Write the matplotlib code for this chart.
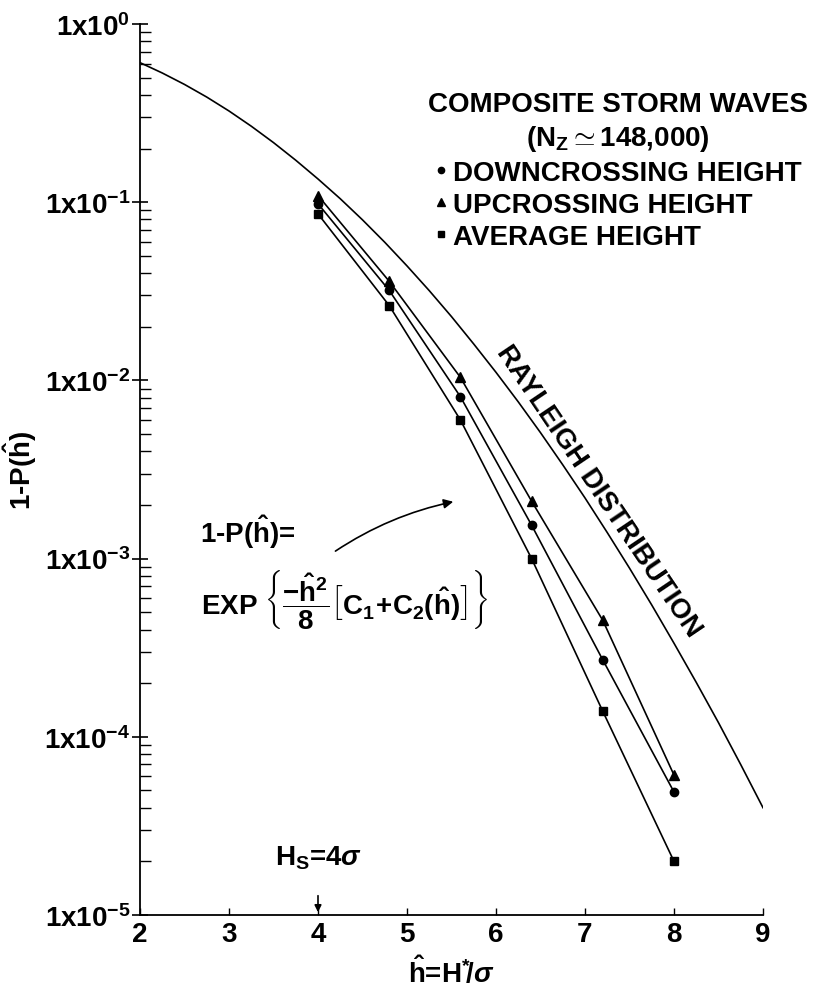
import numpy as np
import matplotlib
matplotlib.use("Agg")
import matplotlib.pyplot as plt
from matplotlib.ticker import FixedLocator, LogLocator, NullFormatter

# normalized wave height h = H*/sigma, sample points of the record
h_points = [4.0, 4.8, 5.6, 6.4, 7.2, 8.0]
downcrossing = [0.098, 0.032, 0.0081, 0.00154, 2.7e-4, 4.9e-5]
upcrossing = [0.109, 0.036, 0.0104, 0.0021, 4.5e-4, 6.1e-5]
average = [0.086, 0.0263, 0.0060, 0.0010, 1.39e-4, 2.0e-5]

# Rayleigh curve, values
h_rayleigh = [2.0, 2.25, 2.5, 2.75, 3.0, 3.25, 3.5, 3.75, 4.0, 4.25, 4.5, 4.75,
              5.0, 5.25, 5.5, 5.75, 6.0, 6.25, 6.5, 6.75, 7.0, 7.25, 7.5,
              7.75, 8.0, 8.25, 8.5, 8.75, 9.0]
p_rayleigh = [0.607, 0.531, 0.458, 0.389, 0.325, 0.267, 0.216, 0.172, 0.135,
              0.1046, 0.0796, 0.0596, 0.0439, 0.0319, 0.0228, 0.0160, 0.0111,
              0.00758, 0.00509, 0.00336, 0.00219, 0.00140, 8.84e-4, 5.49e-4,
              3.35e-4, 2.02e-4, 1.20e-4, 6.98e-5, 4.0e-5]

y_ticks = [1e0, 1e-1, 1e-2, 1e-3, 1e-4, 1e-5]
y_ticklabels = [r"$1\mathrm{x}10^{0}$", r"$1\mathrm{x}10^{-1}$", r"$1\mathrm{x}10^{-2}$",
                r"$1\mathrm{x}10^{-3}$", r"$1\mathrm{x}10^{-4}$", r"$1\mathrm{x}10^{-5}$"]
x_ticks = [2, 3, 4, 5, 6, 7, 8, 9]

fs = 20
plt.rcParams.update({
    "font.family": "Liberation Sans",
    "font.weight": "bold",
    "axes.labelweight": "bold",
    "font.size": fs,
    "mathtext.fontset": "custom",
    "mathtext.rm": "Liberation Sans:bold",
    "mathtext.it": "Liberation Sans:bold:italic",
    "mathtext.bf": "Liberation Sans:bold",
    "mathtext.sf": "Liberation Sans:bold",
    "mathtext.default": "rm",
})

fig = plt.figure(figsize=(8.4, 9.95), dpi=100)
ax = fig.add_axes([140 / 840, 1 - 916 / 995, (763 - 140) / 840, (916 - 25) / 995])

lw = 1.2
ax.plot(h_rayleigh, p_rayleigh, color="black", lw=lw)
ax.plot(h_points, downcrossing, color="black", lw=lw, marker="o", ms=6,
        label="DOWNCROSSING HEIGHT")
ax.plot(h_points, upcrossing, color="black", lw=lw, marker="^", ms=7,
        label="UPCROSSING HEIGHT")
ax.plot(h_points, average, color="black", lw=lw, marker="s", ms=6,
        label="AVERAGE HEIGHT")

ax.set_yscale("log")
ax.set_xlim(2, 9)
ax.set_ylim(1e-5, 1e0)
ax.yaxis.set_major_locator(FixedLocator(y_ticks))
ax.set_yticklabels(y_ticklabels)
ax.yaxis.set_minor_locator(LogLocator(base=10, subs=np.arange(2, 10)))
ax.yaxis.set_minor_formatter(NullFormatter())
ax.set_xticks(x_ticks)
ax.set_xticklabels([str(t) for t in x_ticks])

for s in ["top", "right"]:
    ax.spines[s].set_visible(False)
for s in ["left", "bottom"]:
    ax.spines[s].set_linewidth(1.3)
ax.tick_params(axis="y", which="major", direction="inout", length=12, width=1.2, pad=1, labelsize=fs)
ax.tick_params(axis="y", which="minor", direction="in", length=8, width=1.0)
ax.tick_params(axis="x", which="major", direction="in", length=5, width=1.0, pad=4, labelsize=fs)

ax.set_ylabel(r"1-P($\hat{\mathrm{h}}$)", fontsize=fs, labelpad=4)
ax.set_xlabel(r"$\hat{\mathrm{h}}$=H$^{*}\!/\mathit{\sigma}$", fontsize=fs, labelpad=6)

leg = ax.legend(loc="upper left", bbox_to_anchor=(414 / 840, 1 - 78 / 995),
                bbox_transform=fig.transFigure, frameon=False,
                title="COMPOSITE STORM WAVES\n" + r"(N$_\mathrm{Z}$$\simeq$148,000)",
                title_fontproperties={"size": fs, "weight": "bold"},
                fontsize=fs, handlelength=0.45, handletextpad=0.2,
                labelspacing=0.22, borderpad=0, markerscale=0.75)
leg.get_title().set_multialignment("center")
leg.get_title().set_linespacing(1.3)
for line in leg.get_lines():
    line.set_linestyle("none")

ax.text(7.15, 2.4e-3, "RAYLEIGH DISTRIBUTION", rotation=-56, rotation_mode="anchor",
        ha="center", va="center", fontsize=fs)

ax.text(2.67, 1.42e-3, r"1-P($\hat{\mathrm{h}}$)=", fontsize=fs, ha="left", va="center")
ax.text(2.68, 6.0e-4,
        r"EXP $\left\{\dfrac{-\hat{h}^2}{8}\left[C_1\!+\!C_2(\hat{h})\right]\right\}$",
        fontsize=fs, ha="left", va="center")
ax.annotate("", xy=(5.55, 2.1e-3), xytext=(4.17, 1.08e-3),
            arrowprops=dict(arrowstyle="-|>", color="black", lw=1.2,
                            connectionstyle="arc3,rad=-0.1", mutation_scale=14))

ax.annotate("", xy=(4, 1e-5), xytext=(4, 1.33e-5),
            arrowprops=dict(arrowstyle="-|>", color="black", lw=1.2, mutation_scale=10))
ax.text(4, 2.1e-5, r"H$_\mathrm{S}$=4$\mathit{\sigma}$", fontsize=fs, ha="center", va="center")

fig.savefig("out.png", dpi=100)
